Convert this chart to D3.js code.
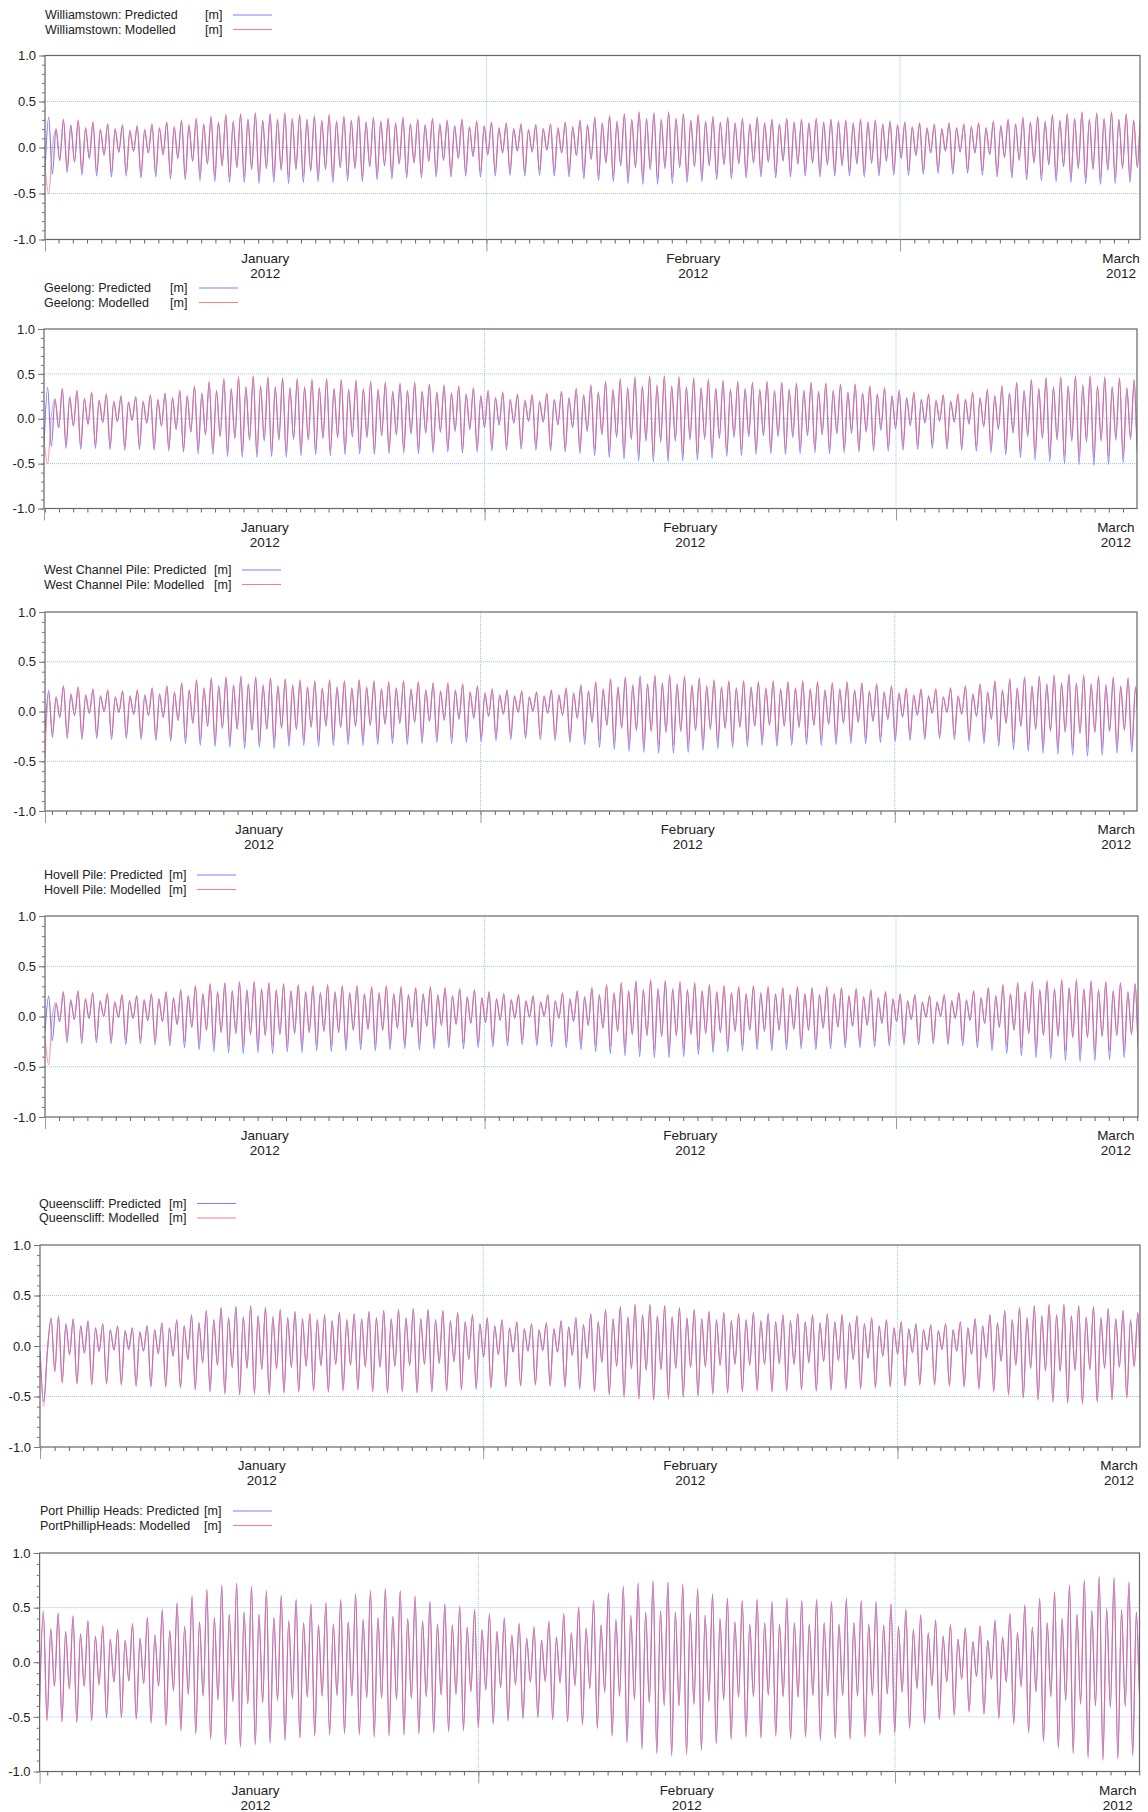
<!DOCTYPE html>
<html><head><meta charset="utf-8">
<script src="https://cdn.jsdelivr.net/npm/d3@7"></script>
<style>body{margin:0;background:#fff}svg{display:block}text{font-family:Arial,"Liberation Sans",sans-serif;fill:#222}</style>
</head><body>
<svg id="chart" width="1148" height="1812"></svg>
<script>
// Water levels in cm, successive high / low waters (first value = level at the left edge)
const wtPred = [-25,
33,-29,20,-14, 30,-27,24,-16, 29,-30,21,-12, 27,-31,19,-8, 25,-32,20,-5,
24,-31,18,-4, 23,-33,19,-6, 25,-32,21,-8, 27,-34,22,-12, 29,-35,24,-15,
31,-36,25,-18, 33,-37,27,-20, 35,-38,28,-22, 36,-38,30,-24, 37,-39,29,-23,
36,-38,30,-25, 37,-39,31,-24, 35,-38,30,-26, 34,-37,29,-24, 35,-38,28,-22,
33,-36,29,-23, 34,-37,27,-21, 32,-35,28,-20, 31,-34,26,-18, 32,-33,25,-17,
30,-33,24,-15, 31,-32,25,-14, 29,-32,23,-12, 30,-31,22,-10, 28,-32,23,-8,
27,-31,21,-6, 26,-30,20,-4, 25,-31,19,-5, 24,-30,20,-3, 25,-31,21,-6,
27,-32,22,-9, 29,-34,24,-13, 32,-36,26,-17, 34,-37,28,-20, 36,-39,30,-22,
38,-40,31,-24, 37,-40,30,-23, 38,-39,31,-22, 36,-38,29,-21, 35,-37,28,-20,
33,-35,27,-19, 32,-34,26,-18, 31,-33,25,-17, 32,-32,26,-16, 30,-33,25,-15,
31,-32,27,-18, 30,-31,26,-17, 31,-32,27,-19, 30,-31,28,-20, 29,-31,26,-18,
30,-32,27,-17, 29,-31,25,-15, 28,-30,24,-12, 27,-30,22,-9, 26,-29,21,-6,
25,-28,20,-4, 26,-29,21,-5, 25,-28,22,-6, 26,-30,21,-8, 28,-32,23,-11,
30,-33,25,-14, 32,-35,27,-17, 33,-36,28,-19, 35,-37,29,-21, 36,-38,31,-23,
38,-39,30,-24, 37,-40,31,-25, 38,-39,30,-23, 36,-38,29,-22, 35,-37,28,-21];
const wtMod = [-22,
-50,0,20,-14, 31,-22,24,-15, 30,-25,22,-11, 28,-26,20,-8, 26,-27,21,-5,
25,-26,19,-4, 24,-28,20,-6, 26,-27,22,-8, 28,-29,23,-11, 30,-30,25,-14,
32,-30,26,-17, 34,-31,28,-19, 36,-32,29,-21, 37,-31,31,-22, 38,-32,30,-22,
37,-31,31,-23, 38,-32,32,-22, 36,-31,31,-24, 35,-31,30,-22, 36,-32,29,-21,
34,-30,30,-21, 35,-31,28,-20, 33,-29,29,-19, 32,-28,27,-17, 33,-28,26,-16,
31,-28,25,-14, 32,-27,26,-13, 30,-27,24,-11, 31,-26,23,-9, 29,-27,24,-7,
28,-26,22,-5, 27,-26,21,-3, 26,-26,20,-4, 25,-25,21,-2, 26,-26,22,-5,
28,-27,23,-8, 30,-28,25,-12, 33,-30,27,-16, 35,-31,29,-18, 37,-32,31,-20,
39,-33,32,-22, 38,-33,31,-21, 39,-32,32,-20, 37,-31,30,-19, 36,-31,29,-18,
34,-29,28,-17, 33,-28,27,-16, 32,-28,26,-15, 33,-27,27,-14, 31,-28,26,-13,
32,-27,28,-16, 31,-26,27,-15, 32,-27,28,-17, 31,-26,29,-18, 30,-26,27,-16,
31,-27,28,-15, 30,-26,26,-13, 29,-25,25,-10, 28,-25,23,-8, 27,-25,22,-5,
26,-24,21,-3, 27,-25,22,-4, 26,-24,23,-5, 27,-25,22,-7, 29,-27,24,-10,
31,-28,26,-13, 33,-29,28,-15, 34,-30,29,-17, 36,-31,30,-19, 37,-32,32,-21,
39,-33,31,-22, 38,-33,32,-23, 39,-32,31,-21, 37,-31,30,-20, 36,-31,29,-19];
const geePred = [-30,
35,-31,22,-10, 33,-33,24,-8, 31,-34,22,-6, 29,-33,20,-4, 27,-34,19,-3,
25,-35,18,-2, 24,-34,19,-5, 26,-35,21,-8, 28,-36,23,-12, 31,-37,25,-15,
36,-39,28,-18, 41,-40,31,-20, 44,-42,33,-22, 46,-43,35,-24, 47,-43,36,-25,
46,-42,35,-24, 45,-43,34,-23, 44,-41,35,-24, 43,-40,34,-22, 44,-41,33,-21,
43,-40,32,-20, 42,-39,33,-21, 41,-40,32,-19, 40,-39,30,-18, 39,-38,31,-17,
40,-39,30,-16, 38,-38,29,-15, 37,-37,28,-14, 36,-38,27,-12, 34,-37,25,-10,
31,-36,23,-7, 29,-35,21,-5, 27,-34,20,-3, 26,-35,19,-4, 28,-36,21,-7,
30,-37,23,-10, 33,-39,26,-14, 37,-41,29,-18, 41,-43,32,-21, 44,-45,34,-23,
46,-47,36,-25, 47,-48,37,-26, 47,-48,36,-25, 46,-47,35,-24, 45,-46,34,-23,
43,-44,33,-22, 42,-42,32,-21, 41,-41,33,-20, 40,-40,32,-19, 41,-39,31,-20,
40,-40,32,-21, 39,-39,31,-19, 40,-38,30,-18, 39,-39,31,-17, 38,-38,29,-16,
38,-37,28,-15, 36,-36,27,-13, 34,-36,25,-11, 31,-35,23,-8, 29,-34,21,-5,
27,-33,20,-3, 26,-34,19,-4, 27,-35,21,-6, 29,-36,23,-9, 32,-38,25,-12,
36,-40,28,-16, 40,-43,31,-20, 43,-46,33,-22, 45,-48,35,-24, 46,-50,36,-25,
47,-51,37,-26, 47,-52,36,-25, 46,-51,35,-24, 45,-49,34,-23, 43,-47,33,-22];
const geeMod = [-25,
-50,2,22,-10, 34,-29,25,-8, 32,-30,23,-6, 30,-29,21,-4, 28,-30,20,-3,
26,-31,19,-2, 25,-30,20,-5, 27,-31,22,-8, 29,-32,24,-11, 32,-33,26,-14,
37,-34,29,-17, 42,-35,32,-19, 45,-36,34,-21, 47,-37,36,-22, 48,-37,37,-23,
47,-36,36,-22, 46,-37,35,-21, 45,-35,36,-22, 44,-35,35,-20, 45,-36,34,-19,
44,-35,33,-18, 43,-34,34,-19, 42,-35,33,-17, 41,-34,31,-16, 40,-33,32,-15,
41,-34,31,-14, 39,-33,30,-13, 38,-32,29,-12, 37,-33,28,-10, 35,-32,26,-8,
32,-31,24,-5, 30,-30,22,-3, 28,-29,21,-2, 27,-30,20,-2, 29,-31,22,-5,
31,-32,24,-8, 34,-33,27,-12, 38,-35,30,-16, 42,-37,33,-19, 45,-38,35,-21,
47,-40,37,-22, 48,-41,38,-23, 48,-41,37,-22, 47,-40,36,-21, 46,-39,35,-20,
44,-38,34,-19, 43,-36,33,-18, 42,-35,34,-17, 41,-35,33,-16, 42,-34,32,-17,
41,-35,33,-18, 40,-34,32,-16, 41,-33,31,-15, 40,-34,32,-14, 39,-33,30,-13,
39,-32,29,-12, 37,-31,28,-10, 35,-31,26,-8, 32,-30,24,-5, 30,-29,22,-3,
28,-28,21,-1, 27,-29,20,-2, 28,-30,22,-4, 30,-31,24,-7, 33,-32,26,-10,
37,-34,29,-14, 41,-36,32,-17, 44,-38,34,-19, 46,-40,36,-21, 47,-41,37,-22,
48,-42,38,-23, 48,-43,37,-22, 47,-42,36,-21, 46,-41,35,-20, 44,-39,34,-19];
const wcpPred = [-20,
21,-26,14,-6, 25,-27,17,-4, 24,-28,16,-2, 22,-27,15,0, 21,-28,14,-1,
20,-27,15,-3, 21,-28,16,-4, 23,-29,17,-6, 25,-30,19,-9, 28,-32,21,-12,
31,-34,23,-15, 33,-35,25,-17, 34,-36,26,-18, 35,-37,27,-19, 34,-36,26,-18,
33,-37,25,-17, 32,-35,26,-18, 31,-34,24,-16, 30,-35,23,-15, 31,-34,24,-16,
30,-33,23,-15, 31,-34,24,-14, 30,-33,22,-13, 29,-32,23,-12, 30,-33,22,-11,
29,-32,21,-10, 28,-31,20,-9, 28,-32,21,-8, 27,-31,19,-7, 25,-30,18,-5,
22,-29,16,-3, 21,-28,15,-1, 20,-27,14,0, 19,-28,15,-2, 21,-29,16,-4,
23,-31,18,-7, 26,-33,20,-11, 29,-36,22,-14, 32,-38,24,-17, 34,-40,26,-19,
35,-41,27,-20, 36,-42,28,-21, 36,-42,27,-20, 35,-41,26,-19, 33,-39,25,-18,
31,-37,24,-17, 30,-36,23,-16, 30,-35,24,-15, 29,-34,23,-14, 30,-35,22,-15,
29,-34,23,-16, 30,-33,22,-14, 29,-34,21,-13, 28,-33,22,-12, 29,-32,21,-11,
28,-32,20,-10, 27,-31,19,-8, 25,-30,18,-6, 23,-29,16,-4, 22,-28,15,-2,
22,-27,14,-1, 23,-28,15,-3, 25,-30,17,-5, 27,-32,19,-8, 30,-35,21,-12,
32,-38,23,-15, 34,-40,25,-18, 35,-42,27,-20, 36,-43,28,-21, 37,-44,28,-22,
36,-45,27,-21, 35,-44,26,-20, 34,-42,25,-19, 33,-41,24,-18, 32,-40,23,-17];
const wcpMod = [-47,
18,-22,15,-6, 26,-23,18,-4, 25,-24,17,-2, 23,-23,16,0, 22,-24,15,-1,
21,-23,16,-3, 22,-24,17,-4, 24,-25,18,-6, 26,-26,20,-9, 29,-27,22,-11,
32,-28,24,-14, 34,-29,26,-16, 35,-30,27,-17, 36,-30,28,-18, 35,-30,27,-17,
34,-30,26,-16, 33,-29,27,-17, 32,-28,25,-15, 31,-29,24,-14, 32,-28,25,-15,
31,-27,24,-14, 32,-28,25,-13, 31,-27,23,-12, 30,-27,24,-11, 31,-27,23,-10,
30,-26,22,-9, 29,-26,21,-8, 29,-26,22,-7, 28,-26,20,-6, 26,-25,19,-4,
23,-24,17,-2, 22,-24,16,0, 21,-23,15,1, 20,-24,16,-1, 22,-25,17,-3,
24,-26,19,-6, 27,-27,21,-10, 30,-29,23,-13, 33,-31,25,-16, 35,-32,27,-18,
36,-33,28,-19, 37,-34,29,-20, 37,-34,28,-19, 36,-33,27,-18, 34,-32,26,-17,
32,-30,25,-16, 31,-30,24,-15, 31,-29,25,-14, 30,-28,24,-13, 31,-29,23,-14,
30,-28,24,-15, 31,-27,23,-13, 30,-28,22,-12, 29,-27,23,-11, 30,-27,22,-10,
29,-27,21,-9, 28,-26,20,-7, 26,-25,19,-5, 24,-24,17,-3, 23,-24,16,-1,
23,-23,15,0, 24,-24,16,-2, 26,-25,18,-4, 28,-27,20,-7, 31,-29,22,-11,
33,-31,24,-14, 35,-33,26,-17, 36,-34,28,-19, 37,-35,29,-20, 38,-36,29,-21,
37,-36,28,-20, 36,-35,27,-19, 35,-34,26,-18, 34,-33,25,-17, 33,-32,24,-16];
const hovPred = [-15,
20,-24,13,-5, 24,-26,16,-3, 25,-27,17,-2, 23,-26,15,0, 22,-27,14,-1,
21,-28,15,-2, 20,-27,16,-4, 22,-28,17,-5, 24,-29,18,-8, 26,-31,20,-11,
30,-33,22,-14, 32,-35,24,-16, 33,-36,25,-17, 34,-37,26,-18, 34,-36,27,-19,
33,-37,26,-18, 32,-35,25,-17, 31,-36,24,-16, 30,-34,23,-15, 31,-35,24,-16,
30,-34,23,-14, 30,-33,22,-13, 29,-34,23,-14, 30,-33,22,-12, 29,-32,21,-11,
28,-33,22,-10, 29,-32,21,-9, 28,-31,20,-8, 27,-32,19,-7, 26,-31,18,-6,
24,-30,17,-4, 22,-29,16,-2, 21,-28,15,-1, 20,-29,14,0, 21,-30,15,-2,
23,-31,17,-5, 25,-33,19,-9, 28,-35,21,-12, 31,-37,23,-15, 33,-39,25,-18,
35,-40,26,-19, 36,-41,27,-20, 35,-41,27,-19, 34,-40,26,-18, 33,-38,25,-17,
31,-36,24,-16, 30,-35,23,-15, 29,-34,22,-14, 30,-33,23,-15, 29,-34,22,-14,
28,-33,21,-13, 29,-32,22,-14, 28,-33,21,-12, 29,-32,22,-11, 28,-31,20,-10,
27,-31,19,-9, 26,-30,18,-7, 24,-29,17,-5, 22,-28,15,-3, 21,-28,14,-1,
20,-27,14,0, 21,-28,15,-2, 23,-29,16,-4, 25,-31,18,-7, 28,-34,20,-11,
31,-37,22,-14, 33,-39,24,-17, 34,-41,26,-19, 35,-42,27,-20, 36,-44,28,-21,
36,-45,27,-21, 35,-44,26,-20, 34,-43,25,-19, 33,-41,24,-18, 32,-40,23,-17];
const hovMod = [-20,
-48,0,14,-5, 25,-21,17,-3, 26,-22,18,-2, 24,-22,16,0, 23,-23,15,-1,
22,-23,16,-2, 21,-23,17,-4, 23,-24,18,-5, 25,-24,19,-8, 27,-25,21,-10,
31,-27,23,-13, 33,-28,25,-15, 34,-29,26,-16, 35,-29,27,-17, 35,-29,28,-18,
34,-29,27,-17, 33,-28,26,-16, 32,-29,25,-15, 31,-28,24,-14, 32,-28,25,-15,
31,-28,24,-13, 31,-27,23,-12, 30,-28,24,-13, 31,-27,23,-11, 30,-27,22,-10,
29,-27,23,-9, 30,-26,22,-8, 29,-26,21,-7, 28,-26,20,-6, 27,-26,19,-5,
25,-25,18,-3, 23,-24,17,-1, 22,-23,16,0, 21,-24,15,1, 22,-25,16,-1,
24,-25,18,-4, 26,-27,20,-8, 29,-28,22,-11, 32,-30,24,-14, 34,-31,26,-17,
36,-32,27,-18, 37,-33,28,-19, 36,-33,28,-18, 35,-32,27,-17, 34,-31,26,-16,
32,-29,25,-15, 31,-29,24,-14, 30,-28,23,-13, 31,-27,24,-14, 30,-28,23,-13,
29,-27,22,-12, 30,-27,23,-13, 29,-27,22,-11, 30,-27,23,-10, 29,-26,21,-9,
28,-26,20,-8, 27,-25,19,-6, 25,-24,18,-4, 23,-24,16,-2, 22,-23,15,0,
21,-23,15,1, 22,-23,16,-1, 24,-24,17,-3, 26,-25,19,-6, 29,-27,21,-10,
32,-29,23,-13, 34,-31,25,-16, 35,-32,27,-18, 36,-33,28,-19, 37,-34,29,-20,
37,-35,28,-20, 36,-35,27,-19, 35,-34,26,-18, 34,-33,25,-17, 33,-32,24,-16];
const qclPred = [-5,
-55,-5,28,-25, 30,-36,22,-8, 27,-37,20,-7, 25,-38,18,-5, 22,-37,16,-4,
20,-38,15,-3, 18,-39,14,-5, 20,-40,16,-7, 23,-40,18,-10, 26,-41,20,-13,
31,-43,23,-16, 35,-45,26,-19, 38,-47,28,-21, 39,-48,29,-22, 40,-47,30,-23,
38,-48,29,-22, 36,-46,28,-21, 34,-45,27,-20, 32,-44,26,-19, 31,-45,25,-18,
33,-44,26,-19, 32,-43,27,-20, 34,-45,28,-21, 35,-46,27,-20, 36,-45,28,-19,
37,-46,27,-18, 36,-45,26,-17, 35,-44,25,-15, 33,-43,24,-13, 31,-42,22,-11,
28,-41,20,-8, 26,-40,18,-6, 24,-39,17,-5, 22,-38,16,-4, 23,-39,17,-6,
25,-40,19,-9, 28,-42,21,-12, 32,-45,24,-16, 36,-48,27,-20, 39,-50,29,-22,
41,-52,31,-24, 41,-53,30,-23, 40,-52,29,-22, 38,-50,28,-21, 36,-49,27,-20,
34,-47,26,-19, 33,-46,25,-18, 32,-45,26,-19, 33,-44,25,-18, 32,-45,24,-17,
31,-44,25,-18, 32,-43,24,-16, 31,-44,23,-15, 32,-43,24,-14, 31,-42,23,-13,
30,-42,22,-12, 28,-41,20,-10, 26,-40,18,-8, 24,-39,17,-6, 22,-38,16,-4,
21,-38,15,-3, 22,-39,16,-5, 24,-40,18,-8, 27,-42,20,-11, 31,-45,23,-15,
35,-48,26,-19, 38,-51,28,-22, 40,-53,30,-24, 41,-55,31,-25, 41,-56,30,-24,
40,-57,29,-23, 39,-55,28,-22, 37,-53,27,-21, 35,-51,26,-20, 33,-49,25,-19];
const qclMod = [-5,
-60,-5,27,-26, 29,-37,21,-9, 27,-38,20,-7, 24,-39,18,-6, 22,-38,16,-4,
19,-39,15,-4, 18,-40,14,-5, 20,-41,16,-8, 22,-41,18,-10, 26,-42,20,-14,
30,-44,23,-17, 35,-46,26,-19, 38,-48,28,-22, 39,-49,29,-22, 39,-48,30,-23,
38,-49,29,-23, 36,-47,28,-21, 34,-46,27,-20, 32,-45,26,-20, 31,-46,25,-18,
33,-45,26,-19, 32,-44,27,-21, 34,-46,28,-21, 35,-47,27,-20, 36,-46,28,-20,
37,-47,27,-18, 36,-46,26,-17, 35,-45,25,-16, 33,-44,24,-13, 31,-43,22,-11,
28,-42,20,-9, 26,-41,18,-6, 24,-40,17,-5, 22,-39,16,-5, 23,-40,17,-6,
25,-41,19,-9, 28,-43,21,-13, 32,-46,24,-16, 36,-49,27,-20, 39,-51,29,-23,
41,-53,31,-24, 41,-54,30,-24, 40,-53,29,-22, 38,-51,28,-21, 36,-50,27,-21,
34,-48,26,-19, 33,-47,25,-18, 32,-46,26,-19, 33,-45,25,-18, 32,-46,24,-18,
31,-45,25,-18, 32,-44,24,-17, 31,-45,23,-15, 32,-44,24,-15, 31,-43,23,-13,
30,-43,22,-12, 28,-42,20,-10, 26,-41,18,-8, 24,-40,17,-7, 22,-39,16,-4,
21,-39,15,-4, 22,-40,16,-5, 24,-41,18,-8, 27,-43,20,-12, 31,-46,23,-15,
35,-49,26,-19, 38,-52,28,-22, 40,-54,30,-25, 41,-56,31,-25, 41,-57,30,-24,
40,-58,29,-24, 39,-56,28,-22, 37,-54,27,-21, 35,-52,26,-21, 33,-50,25,-19];
const phhPred = [-40,
46,-53,30,-22, 45,-54,28,-24, 42,-55,26,-22, 38,-53,24,-20, 33,-51,21,-18,
30,-50,20,-17, 35,-52,22,-19, 41,-55,25,-22, 48,-58,29,-26, 54,-62,33,-29,
60,-65,37,-31, 66,-70,41,-34, 70,-75,44,-36, 72,-77,46,-38, 69,-75,44,-37,
65,-73,41,-35, 61,-71,38,-33, 57,-69,36,-32, 53,-67,34,-31, 54,-66,35,-30,
57,-65,37,-31, 62,-66,39,-32, 65,-68,41,-33, 67,-67,42,-34, 65,-66,40,-33,
60,-65,38,-31, 55,-64,35,-30, 53,-63,34,-29, 51,-62,32,-27, 48,-59,30,-25,
44,-56,28,-23, 40,-53,25,-20, 35,-51,22,-18, 32,-50,20,-17, 37,-52,23,-19,
44,-54,27,-21, 50,-57,31,-24, 56,-60,34,-27, 63,-67,39,-31, 69,-73,43,-34,
72,-79,46,-37, 74,-83,47,-39, 73,-85,46,-40, 71,-84,45,-38, 67,-80,43,-36,
62,-74,40,-34, 58,-70,37,-32, 56,-68,35,-31, 57,-69,36,-30, 55,-67,35,-31,
58,-70,36,-32, 56,-68,35,-30, 57,-71,36,-31, 55,-69,35,-30, 58,-70,36,-31,
56,-68,35,-30, 55,-66,34,-29, 53,-64,33,-27, 48,-60,30,-24, 43,-56,27,-21,
38,-52,24,-18, 34,-48,21,-15, 31,-45,19,-13, 33,-47,20,-15, 38,-51,23,-18,
44,-56,27,-22, 52,-64,32,-27, 58,-72,36,-31, 64,-78,40,-35, 70,-83,44,-38,
75,-87,47,-40, 78,-89,49,-41, 77,-88,48,-40, 73,-85,46,-38, 70,-82,44,-36];
const phhMod = [-30,
47,-54,31,-22, 45,-55,28,-25, 43,-55,26,-22, 38,-54,24,-21, 34,-51,21,-18,
30,-51,20,-17, 36,-52,22,-20, 41,-56,25,-22, 49,-58,29,-26, 55,-63,33,-30,
61,-66,37,-31, 67,-71,41,-35, 71,-76,44,-36, 73,-78,46,-38, 70,-76,44,-37,
66,-74,41,-35, 61,-72,38,-34, 58,-70,36,-32, 54,-68,34,-31, 55,-67,35,-31,
58,-66,37,-31, 63,-67,39,-33, 66,-69,41,-33, 68,-68,42,-35, 66,-67,40,-33,
61,-66,38,-32, 56,-65,35,-30, 54,-64,34,-30, 52,-63,32,-27, 49,-60,30,-26,
45,-57,28,-23, 41,-54,25,-21, 36,-52,22,-18, 33,-51,20,-18, 38,-53,23,-19,
45,-55,27,-22, 51,-58,31,-24, 57,-61,34,-28, 64,-68,39,-31, 70,-74,43,-35,
73,-80,46,-37, 75,-84,47,-40, 74,-86,46,-40, 72,-85,45,-39, 68,-81,43,-36,
63,-75,40,-35, 59,-71,37,-32, 57,-69,35,-32, 58,-70,36,-30, 56,-68,35,-32,
59,-71,36,-32, 57,-69,35,-31, 58,-72,36,-31, 56,-70,35,-31, 59,-71,36,-31,
57,-69,35,-31, 56,-67,34,-29, 54,-65,33,-28, 49,-61,30,-24, 44,-57,27,-22,
39,-53,24,-18, 35,-49,21,-16, 32,-46,19,-13, 34,-48,20,-16, 39,-52,23,-18,
45,-57,27,-23, 53,-65,32,-27, 59,-73,36,-32, 65,-79,40,-35, 71,-84,44,-39,
76,-88,47,-40, 79,-90,49,-42, 78,-89,48,-40, 74,-86,46,-39, 71,-83,44,-36];

const stationPred = ["Williamstown: Predicted","Geelong: Predicted","West Channel Pile: Predicted","Hovell Pile: Predicted","Queenscliff: Predicted","Port Phillip Heads: Predicted"];
const stationMod = ["Williamstown: Modelled","Geelong: Modelled","West Channel Pile: Modelled","Hovell Pile: Modelled","Queenscliff: Modelled","PortPhillipHeads: Modelled"];
const unitLabel = "[m]";
const monthNames = ["January","February","March"];
const yearLabel = "2012";
const monthMid = [new Date(2012,0,16,12), new Date(2012,1,15,12), new Date(2012,2,16,12)];
const monthStarts = [new Date(2012,1,1), new Date(2012,2,1)];
const yTicks = [-1,-0.5,0,0.5,1];
const yGrid = [-0.5,0,0.5];
const stepHours = 6.21;

// layout (pixels)
const layout = [
 {pred:wtPred, mod:wtMod, left:45, right:1140, top:55.5, bottom:239.5, feb:486.4, mar:900, legY:15, textX:45, unitX:205, lineX:233},
 {pred:geePred, mod:geeMod, left:44, right:1137, top:329, bottom:508.5, feb:484.6, mar:896, legY:288, textX:44, unitX:170, lineX:199},
 {pred:wcpPred, mod:wcpMod, left:45, right:1137, top:612, bottom:811, feb:480.5, mar:894.8, legY:570, textX:44, unitX:214, lineX:242},
 {pred:hovPred, mod:hovMod, left:45, right:1138, top:916, bottom:1117, feb:484.6, mar:896, legY:875, textX:44, unitX:169, lineX:197},
 {pred:qclPred, mod:qclMod, left:40, right:1140, top:1245, bottom:1447, feb:483.2, mar:897.5, legY:1203.5, textX:39, unitX:169, lineX:197},
 {pred:phhPred, mod:phhMod, left:39.6, right:1139.5, top:1553, bottom:1771.5, feb:478.3, mar:895, legY:1511, textX:40, unitX:204, lineX:233}
];
const BLUE = "rgb(95,95,255)", RED = "rgb(255,105,105)";
const svg = d3.select("#chart");

layout.forEach((p, k) => {
  const x = d3.scaleTime().domain(monthStarts).range([p.feb, p.mar]);
  const y = d3.scaleLinear().domain([-1, 1]).range([p.bottom, p.top]);
  const g = svg.append("g");
  const t0 = x.invert(p.left), t1 = x.invert(p.right);
  const stepMs = stepHours * 3600 * 1000;

  const cid = "clip" + k;
  svg.append("clipPath").attr("id", cid).append("rect")
    .attr("x", p.left).attr("y", p.top).attr("width", p.right - p.left).attr("height", p.bottom - p.top);

  // grid
  g.selectAll(".gy").data(yGrid).enter().append("line")
    .attr("x1", p.left).attr("x2", p.right).attr("y1", d => y(d)).attr("y2", d => y(d))
    .attr("stroke", "#9cc6ef").attr("stroke-width", 1).attr("stroke-dasharray", "1,1");
  g.selectAll(".gx").data(monthStarts).enter().append("line")
    .attr("x1", d => x(d)).attr("x2", d => x(d)).attr("y1", p.top).attr("y2", p.bottom)
    .attr("stroke", "#9cc6ef").attr("stroke-width", 1).attr("stroke-dasharray", "1,1");

  // series
  const line = d3.line()
    .x((d, i) => x(new Date(+t0 + i * stepMs)))
    .y(d => y(d / 100))
    .curve(d3.curveMonotoneX);
  const sg = g.append("g").attr("clip-path", "url(#" + cid + ")");
  sg.append("path").datum(p.pred).attr("d", line).attr("fill", "none")
    .attr("stroke", BLUE).attr("stroke-width", 1.1).attr("stroke-opacity", 0.85);
  sg.append("path").datum(p.mod).attr("d", line).attr("fill", "none")
    .attr("stroke", RED).attr("stroke-width", 1.1).attr("stroke-opacity", 0.7);

  // frame
  g.append("rect").attr("x", p.left).attr("y", p.top).attr("width", p.right - p.left).attr("height", p.bottom - p.top)
    .attr("fill", "none").attr("stroke", "#666").attr("stroke-width", 1.2);

  // y axis
  const yMinor = d3.range(-10, 11).map(i => i / 10);
  const ya2 = g.append("g").attr("transform", `translate(${p.left},0)`)
    .call(d3.axisLeft(y).tickValues(yMinor).tickSize(3).tickFormat(""));
  const ya = g.append("g").attr("transform", `translate(${p.left},0)`)
    .call(d3.axisLeft(y).tickValues(yTicks).tickSize(6).tickPadding(3).tickFormat(d => d.toFixed(1)));
  [ya, ya2].forEach(a => { a.select(".domain").remove(); a.selectAll("line").attr("stroke", "#777"); });
  ya.selectAll("text").attr("font-size", 13).attr("fill", "#222").style("font-family", "Arial, 'Liberation Sans', sans-serif");

  // x axis
  const days = d3.timeDay.range(d3.timeDay.ceil(t0), t1);
  const xa = g.append("g").attr("transform", `translate(0,${p.bottom})`)
    .call(d3.axisBottom(x).tickValues(days).tickSize(4).tickFormat(""));
  const xm = g.append("g").attr("transform", `translate(0,${p.bottom})`)
    .call(d3.axisBottom(x).tickValues([t0].concat(monthStarts)).tickSize(12).tickFormat(""));
  [xa, xm].forEach(a => a.select(".domain").remove());
  xa.selectAll("line").attr("stroke", "#666");
  xm.selectAll("line").attr("stroke", "#999");

  // month labels
  const ml = g.selectAll(".ml").data(monthMid).enter().append("text")
    .attr("text-anchor", "middle").attr("font-size", 13.5);
  ml.append("tspan").attr("x", d => x(d)).attr("y", p.bottom + 23).text((d, i) => monthNames[i]);
  ml.append("tspan").attr("x", d => x(d)).attr("y", p.bottom + 38).text(yearLabel);

  // legend
  const rows = [{t: stationPred[k], c: "#7d7dff"}, {t: stationMod[k], c: "#ff7d7d"}];
  rows.forEach((r, j) => {
    const cy = p.legY + j * 14.5;
    g.append("text").attr("x", p.textX).attr("y", cy + 4.3).attr("font-size", 12.5).text(r.t);
    g.append("text").attr("x", p.unitX).attr("y", cy + 4.3).attr("font-size", 12.5).text(unitLabel);
    g.append("line").attr("x1", p.lineX).attr("x2", p.lineX + 39).attr("y1", cy).attr("y2", cy)
      .attr("stroke", r.c).attr("stroke-width", 1);
  });
});
</script>
</body></html>
